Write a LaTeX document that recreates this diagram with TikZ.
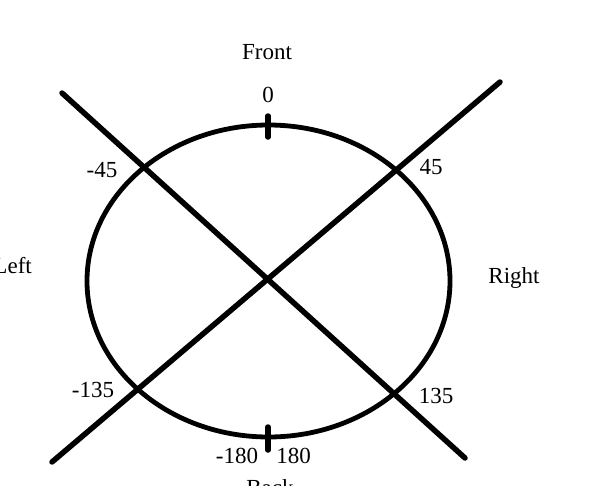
\documentclass[tikz,border=0pt]{standalone}
\usepackage{fontspec}
\setmainfont{Liberation Serif}
\usetikzlibrary{positioning}

\begin{document}
\begin{tikzpicture}[x=1pt,y=-1pt,line cap=round,
  lbl/.style={anchor=base,inner sep=0pt,font=\fontsize{23}{26}\selectfont}]
\useasboundingbox (0,0) rectangle (613,485);
\draw[line width=4.8pt] (268.5,281) ellipse [x radius=181.5,y radius=156];
\coordinate (tl) at (62,93);
\coordinate (br) at (465,458);
\coordinate (tr) at (500,82);
\coordinate (bl) at (52,462);
\draw[line width=5.5pt] (tl) -- (br);
\draw[line width=5.5pt] (tr) -- (bl);
\coordinate (ftop) at (268,116);
\coordinate (fbot) at (268,137);
\coordinate (btop) at (268,427);
\coordinate (bbot) at (268,450);
\draw[line width=5.5pt] (ftop) -- (fbot);
\draw[line width=5.5pt] (btop) -- (bbot);
\node[lbl] (front) at (267,59) {Front};
\node[lbl] (zero) at (268,102) {0};
\node[lbl] (mfortyfive) at (102,177) {-45};
\node[lbl] (fortyfive) at (431,174) {45};
\node[lbl,anchor=base east] (left) at (32,273) {Left};
\node[lbl] (right) at (514,283) {Right};
\node[lbl] (mthirtyfive) at (93,397) {-135};
\node[lbl] (thirtyfive) at (436,403) {135};
\node[lbl] (meighty) at (237,463) {-180};
\node[lbl] (eighty) at (293.5,463) {180};
\node[lbl] (back) at (270,495) {Back};
\end{tikzpicture}
\end{document}
